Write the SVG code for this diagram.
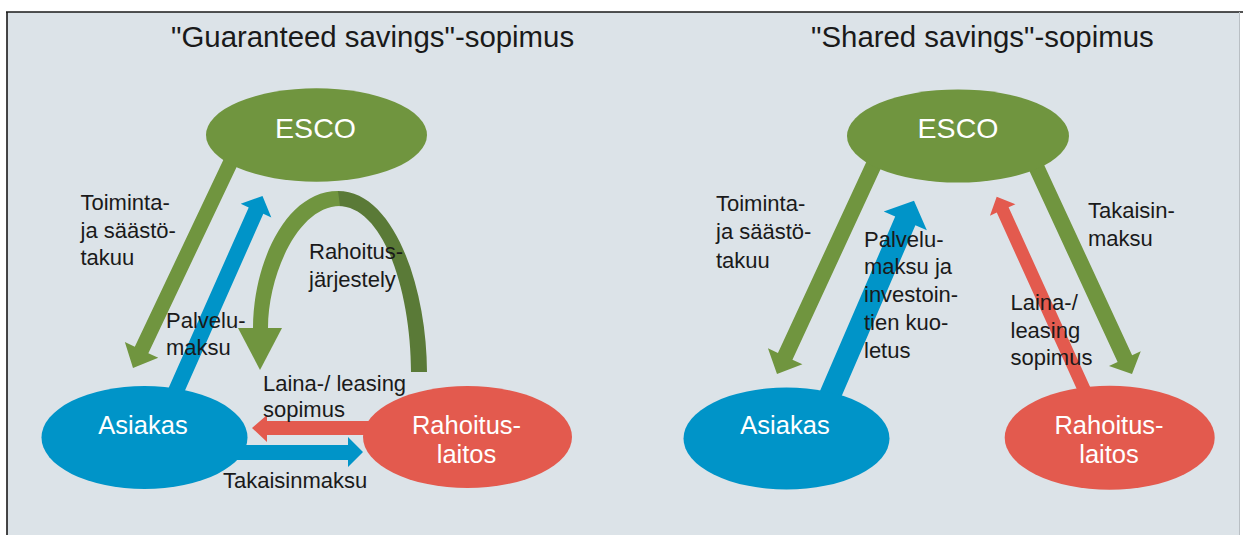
<svg xmlns="http://www.w3.org/2000/svg" width="1243" height="535" viewBox="0 0 1243 535">
<style>
.title{font-family:"Liberation Sans",Arial,sans-serif;font-size:29.4px;fill:#1a1a1a}
.lbl{font-family:"Liberation Sans",Arial,sans-serif;font-size:22px;fill:#1a1a1a}
.node{font-family:"Liberation Sans",Arial,sans-serif;font-size:25.5px;fill:#ffffff;text-anchor:middle}
.esco{font-size:28.5px}
.g{fill:#70953f}
.gd{fill:#5a7a37}
.b{fill:#0094c8}
.r{fill:#e35a4e}
</style>
<rect x="0" y="0" width="1243" height="535" fill="#ffffff"/>
<rect x="7" y="12" width="1232" height="523" fill="#dce3e8"/>
<line x1="6" y1="12" x2="1243" y2="12" stroke="#1a1a1a" stroke-width="1.6"/>
<line x1="7" y1="12" x2="7" y2="535" stroke="#1a1a1a" stroke-width="1.6"/>
<line x1="1239.5" y1="12" x2="1239.5" y2="535" stroke="#b9bfc4" stroke-width="1"/>

<text class="title" x="171" y="47">"Guaranteed savings"-sopimus</text>
<text class="title" x="811" y="47">"Shared savings"-sopimus</text>

<g id="connectors">
  <!-- left diagram -->
  <polygon class="g" points="227.22,151.79 240.78,158.21 148.35,353.14 158.29,357.86 133,368 124.85,342 134.79,346.72"/>
  <polygon class="b" points="164.69,396.76 248.7,207.38 240.7,203.83 262.5,196 271.32,217.41 263.32,213.86 179.31,403.24"/>
  <path class="gd" d="M338 191 C395 191 427 290 427 372 L411 372 C411 295 385 206 338 206 Z"/>
  <path class="g" d="M253 328 C253 265 285 191 338 191 L340 206 C298 206 268 275 268 328 Z"/>
  <polygon class="g" points="238,328 282,328 260,370"/>
  <polygon class="r" points="380,421 267,421 267,415 252,428 267,442 267,435 380,435"/>
  <polygon class="b" points="230,445 348,445 348,437 363,452 348,467 348,460 230,460"/>
  <!-- right diagram -->
  <polygon class="g" points="868.74,156.64 883.26,163.36 792.45,359.66 802.43,364.28 777,374 767.95,348.32 777.93,352.94"/>
  <polygon class="b" points="817.9,395.64 895.19,216.54 883.72,211.59 914,200.7 926.86,230.21 915.39,225.26 838.1,404.36"/>
  <polygon class="r" points="1082.08,400.69 996.77,212.6 989.94,215.69 996.7,196.7 1015.44,204.13 1008.61,207.22 1093.92,395.31"/>
  <polygon class="g" points="1026.74,165.36 1041.26,158.64 1132.13,355.21 1140.75,351.23 1132,374 1108.99,365.91 1117.61,361.93"/>
</g>

<g id="esco-left">
  <ellipse class="g" cx="316.5" cy="135" rx="110.5" ry="46.7"/>
  <text class="node esco" x="315.5" y="138">ESCO</text>
</g>
<g id="asiakas-left">
  <ellipse class="b" cx="144.5" cy="437.5" rx="103" ry="51.5"/>
  <text class="node" x="143" y="433.5">Asiakas</text>
</g>
<g id="rahoitus-left">
  <ellipse class="r" cx="467.5" cy="437" rx="104.5" ry="51"/>
  <text class="node" x="466.5" y="433.5">Rahoitus-</text>
  <text class="node" x="466.5" y="463">laitos</text>
</g>

<g id="esco-right">
  <ellipse class="g" cx="958" cy="136" rx="111" ry="46.6"/>
  <text class="node esco" x="958" y="138">ESCO</text>
</g>
<g id="asiakas-right">
  <ellipse class="b" cx="786.5" cy="438.5" rx="103" ry="51"/>
  <text class="node" x="785" y="433.5">Asiakas</text>
</g>
<g id="rahoitus-right">
  <ellipse class="r" cx="1109.7" cy="437.7" rx="105" ry="52"/>
  <text class="node" x="1109" y="433.5">Rahoitus-</text>
  <text class="node" x="1109" y="463">laitos</text>
</g>

<g id="labels-left">
  <text class="lbl" x="80.5" y="210">Toiminta-</text>
  <text class="lbl" x="80.5" y="237.5">ja säästö-</text>
  <text class="lbl" x="80.5" y="265">takuu</text>
  <text class="lbl" x="166" y="328">Palvelu-</text>
  <text class="lbl" x="166" y="355">maksu</text>
  <text class="lbl" x="309" y="259">Rahoitus-</text>
  <text class="lbl" x="309" y="286.5">järjestely</text>
  <text class="lbl" x="263" y="390.5">Laina-/ leasing</text>
  <text class="lbl" x="263" y="416.5">sopimus</text>
  <text class="lbl" x="223" y="488">Takaisinmaksu</text>
</g>
<g id="labels-right">
  <text class="lbl" x="716" y="211">Toiminta-</text>
  <text class="lbl" x="716" y="239">ja säästö-</text>
  <text class="lbl" x="716" y="267.5">takuu</text>
  <text class="lbl" x="864" y="246.7">Palvelu-</text>
  <text class="lbl" x="864" y="274.4">maksu ja</text>
  <text class="lbl" x="864" y="302.1">investoin-</text>
  <text class="lbl" x="864" y="329.8">tien kuo-</text>
  <text class="lbl" x="864" y="357.5">letus</text>
  <text class="lbl" x="1088" y="218.3">Takaisin-</text>
  <text class="lbl" x="1088" y="246">maksu</text>
  <text class="lbl" x="1010.5" y="310">Laina-/</text>
  <text class="lbl" x="1010.5" y="337.7">leasing</text>
  <text class="lbl" x="1010.5" y="365">sopimus</text>
</g>
</svg>
